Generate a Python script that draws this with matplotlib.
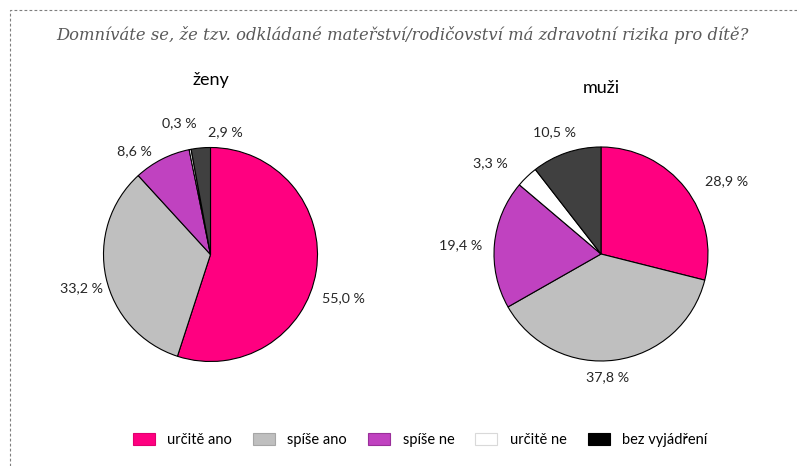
import matplotlib
matplotlib.use("Agg")
import matplotlib.pyplot as plt
from matplotlib.patches import Patch
from matplotlib.lines import Line2D

TITLE = "Domníváte se, že tzv. odkládané mateřství/rodičovství má zdravotní rizika pro dítě?"
CATEGORIES = ["určitě ano", "spíše ano", "spíše ne", "určitě ne", "bez vyjádření"]
ZENY = [55.0, 33.2, 8.6, 0.3, 2.9]
MUZI = [28.9, 37.8, 19.4, 3.3, 10.5]

COLORS = ["#FF0080", "#BFBFBF", "#C042C0", "#FFFFFF", "#404040"]
LEGEND_COLORS = ["#FF0080", "#BFBFBF", "#C042C0", "#FFFFFF", "#000000"]
LEGEND_EDGES = ["#E0006F", "#A6A6A6", "#9A2F9A", "#D9D9D9", "#000000"]
TEXT = "#262626"

# label positions in units of pie radius (layout only)
ZENY_LABEL_POS = [(1.24, -0.41), (-1.21, -0.31), (-0.71, 0.97), (-0.29, 1.23), (0.14, 1.14)]
MUZI_LABEL_POS = [(1.17, 0.68), (0.06, -1.15), (-1.31, 0.08), (-1.03, 0.85), (-0.43, 1.14)]

W, H = 797, 466
R = 107  # pie radius, px
LIM = 1.6

plt.rcParams["font.family"] = ["Lato", "DejaVu Sans"]

fig = plt.figure(figsize=(W / 100, H / 100), dpi=100)
fig.patch.set_facecolor("white")


def fmt(v):
    return f"{v:.1f}".replace(".", ",") + " %"


def draw_pie(cx, cy, values, label_pos, name, name_y):
    side = 2 * LIM * R
    ax = fig.add_axes([(cx - side / 2) / W, (H - cy - side / 2) / H, side / W, side / H])
    ax.pie(values, colors=COLORS, startangle=90, counterclock=False, radius=1,
           wedgeprops=dict(edgecolor="black", linewidth=0.8))
    ax.set_xlim(-LIM, LIM)
    ax.set_ylim(-LIM, LIM)
    ax.set_aspect("equal")
    ax.axis("off")
    for v, (lx, ly) in zip(values, label_pos):
        ax.text(lx, ly, fmt(v), ha="center", va="center", fontsize=10.3, color=TEXT)
    fig.text(cx / W, 1 - name_y / H, name, ha="center", va="center", fontsize=13, color="black")
    return ax


draw_pie(210.5, 254.5, ZENY, ZENY_LABEL_POS, "ženy", 80)
draw_pie(601, 254, MUZI, MUZI_LABEL_POS, "muži", 88)

fig.text(402 / W, 1 - 35 / H, TITLE, ha="center", va="center", fontsize=11.8,
         style="italic", family=["DejaVu Serif"], color="#595959")

# dotted frame (left and top edges)
fig.add_artist(Line2D([10 / W, 10 / W, 1.0], [0.0, 1 - 10 / H, 1 - 10 / H],
                      transform=fig.transFigure, color="#7F7F7F", linewidth=0.8,
                      linestyle=(0, (2.5, 2))))

handles = [Patch(facecolor=c, edgecolor=e, linewidth=0.8)
           for c, e in zip(LEGEND_COLORS, LEGEND_EDGES)]
fig.legend(handles, CATEGORIES, loc="center", bbox_to_anchor=(420 / W, 1 - 440 / H),
           ncol=5, frameon=False, fontsize=10.5, handlelength=1.5, handleheight=0.9,
           handletextpad=0.85, columnspacing=1.45, labelcolor="black")

fig.savefig("out.png", dpi=100, facecolor="white")
